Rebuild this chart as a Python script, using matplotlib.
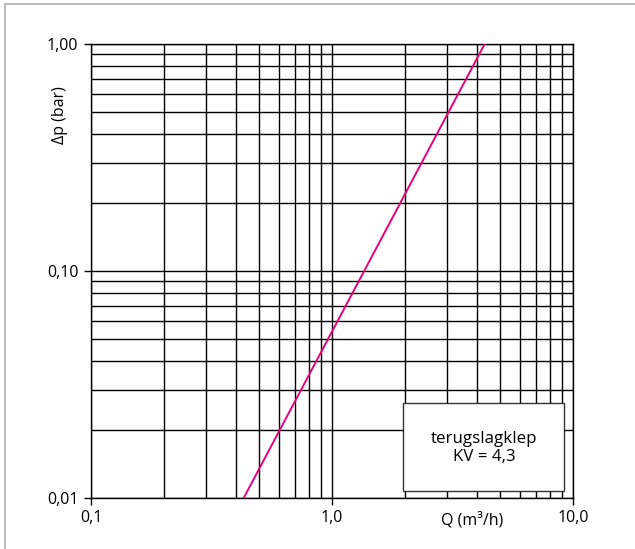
import matplotlib.pyplot as plt
from matplotlib.patches import Rectangle
from matplotlib.lines import Line2D

# Curve end points (straight line on log-log axes)
flow = [0.43, 4.3]
pressure_drop = [0.01, 1.0]

x_ticks = [0.1, 1.0, 10.0]
x_tick_labels = ["0,1", "1,0", "10,0"]
y_ticks = [0.01, 0.1, 1.0]
y_tick_labels = ["0,01", "0,10", "1,00"]

box_text = "terugslagklep\nKV = 4,3"

plt.rcParams["font.family"] = ["Open Sans", "DejaVu Sans"]

fig = plt.figure(figsize=(6.35, 5.49), dpi=100)
ax = fig.add_axes([91 / 635, 51 / 549, 482 / 635, 454 / 549])

ax.set_xscale("log")
ax.set_yscale("log")
ax.set_xlim(0.1, 10)
ax.set_ylim(0.01, 1)

# grid on all decades
ax.grid(True, which="both", color="black", linewidth=1.0)
ax.set_axisbelow(True)

ax.plot(flow, pressure_drop, color="#e6007e", linewidth=1.4, zorder=3)

ax.set_xticks(x_ticks)
ax.set_xticklabels(x_tick_labels)
ax.set_yticks(y_ticks)
ax.set_yticklabels(y_tick_labels)
ax.minorticks_on()
ax.tick_params(which="minor", length=0)
ax.tick_params(which="major", length=5, width=1, color="black",
               labelsize=11.5, pad=4)
for s in ax.spines.values():
    s.set_color("black")
    s.set_linewidth(1.0)

# label box
ax.add_patch(Rectangle((0.647, 0.0154), 0.334, 0.194, transform=ax.transAxes,
                       facecolor="white", edgecolor="#333333", linewidth=1.0,
                       zorder=4))
ax.text(0.815, 0.110, box_text, transform=ax.transAxes, ha="center",
        va="center", fontsize=12.2, zorder=5, linespacing=1.1)

# axis titles
fig.text(472 / 635, 1 - 520 / 549, "Q (m³/h)", ha="center", va="center",
         fontsize=11.5)
fig.text(60 / 635, 1 - 115 / 549, "Δp (bar)", ha="center", va="center",
         rotation=90, fontsize=11.5)

# light frame at top and left
fig.add_artist(Line2D([5 / 635, 1], [1 - 4 / 549, 1 - 4 / 549],
                      transform=fig.transFigure, color="#bbbbbb", linewidth=1.5))
fig.add_artist(Line2D([5 / 635, 5 / 635], [0, 1 - 4 / 549],
                      transform=fig.transFigure, color="#bbbbbb", linewidth=1.5))

fig.savefig("out.png", dpi=100)
